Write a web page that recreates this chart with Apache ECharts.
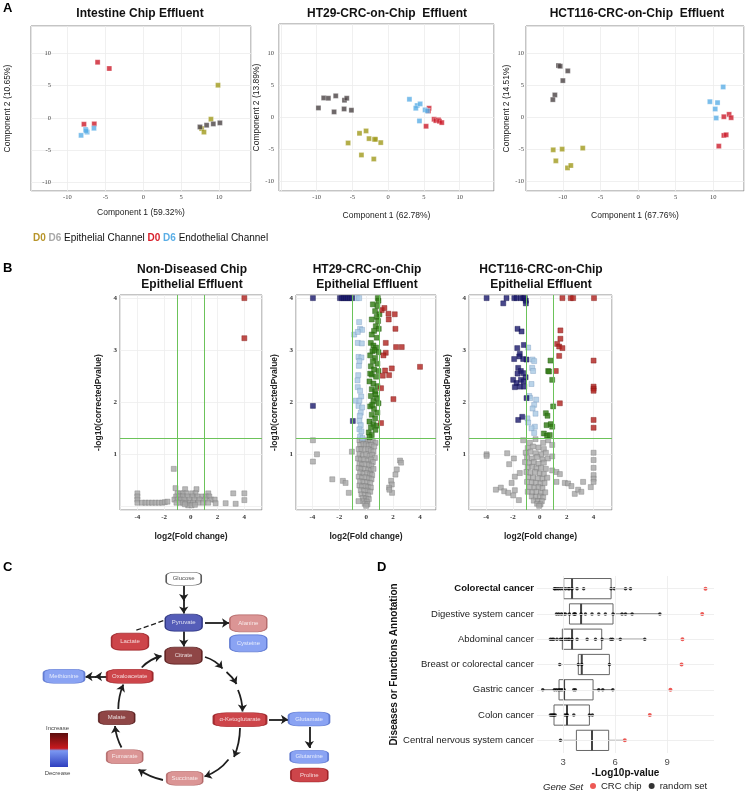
<!DOCTYPE html>
<html><head><meta charset="utf-8">
<script src="https://cdn.jsdelivr.net/npm/echarts@6/dist/echarts.min.js"></script>
<style>html,body{margin:0;padding:0;background:#fff}#c{width:747px;height:799px}</style>
</head><body><div id="c"></div>
<script>
// ---------------- Panel A data (PCA scores) ----------------
const a1_D0epi  = [[9.85,5.05],[8.92,-0.2],[7.69,-1.65],[8.0,-2.2]];
const a1_D6epi  = [[7.47,-1.4],[8.35,-1.13],[9.23,-0.93],[10.1,-0.77]];
const a1_D0endo = [[-6.02,8.6],[-4.48,7.63],[-7.82,-0.98],[-6.46,-0.93]];
const a1_D6endo = [[-8.2,-2.7],[-7.6,-1.8],[-7.4,-2.2],[-7.55,-2.0],[-6.5,-1.6]];

const a2_D0epi  = [[-5.59,-3.96],[-4.0,-2.45],[-3.08,-2.08],[-2.66,-3.28],[-1.91,-3.39],[-1.77,-3.39],[-1.03,-3.9],[-3.73,-5.83],[-2.0,-6.46]];
const a2_D6epi  = [[-9.74,1.51],[-9.0,3.07],[-8.35,3.02],[-7.32,3.39],[-7.55,0.89],[-6.1,2.71],[-5.78,3.02],[-6.15,1.35],[-5.13,1.15]];
const a2_D0endo = [[5.73,1.46],[5.64,1.04],[5.31,-1.35],[6.43,-0.26],[6.67,-0.47],[7.04,-0.36],[7.18,-0.57],[7.5,-0.78]];
const a2_D6endo = [[2.98,2.86],[4.06,1.88],[3.87,1.46],[4.48,2.14],[5.17,1.2],[5.5,1.04],[4.38,-0.52]];

const a3_D0epi  = [[-11.28,-5.07],[-10.09,-4.96],[-10.93,-6.79],[-7.35,-4.8],[-9.38,-7.89],[-8.94,-7.52]];
const a3_D6epi  = [[-10.58,8.09],[-10.35,7.99],[-9.34,7.26],[-10.0,5.74],[-11.06,3.5],[-11.33,2.77]];
const a3_D0endo = [[11.42,0.1],[12.12,0.47],[12.39,-0.05],[11.42,-2.82],[11.73,-2.72],[10.75,-4.49]];
const a3_D6endo = [[11.33,4.75],[9.56,2.45],[10.58,2.3],[10.27,1.31],[10.4,-0.1]];

const aTitles = ['Intestine Chip Effluent','HT29-CRC-on-Chip  Effluent','HCT116-CRC-on-Chip  Effluent'];
const aXNames = ['Component 1 (59.32%)','Component 1 (62.78%)','Component 1 (67.76%)'];
const aYNames = ['Component 2 (10.65%)','Component 2 (13.89%)','Component 2 (14.51%)'];

// ---------------- Panel B data (volcano) ----------------
const bTitles = ['Non-Diseased Chip\nEpithelial Effluent','HT29-CRC-on-Chip\nEpithelial Effluent','HCT116-CRC-on-Chip\nEpithelial Effluent'];
const b1Gray = [[-1.28,0.72],[-1.15,0.35],[0.42,0.33],[-0.43,0.33],
 [-4.0,0.25],[-1.0,0.25],[-0.8,0.25],[-0.58,0.25],[-0.33,0.25],[0.1,0.25],[0.35,0.25],[1.3,0.25],[3.17,0.25],[4.0,0.25],
 [-4.0,0.19],[-1.1,0.19],[-0.85,0.19],[-0.6,0.19],[-0.25,0.19],[0.13,0.19],[0.5,0.19],[0.88,0.19],[1.13,0.19],[1.38,0.19],
 [-4.0,0.13],[-1.23,0.13],[-0.98,0.13],[-0.73,0.13],[-0.48,0.13],[-0.1,0.13],[0.27,0.13],[0.65,0.13],[1.08,0.13],[1.53,0.13],[1.78,0.13],[4.0,0.12],
 [-4.0,0.07],[-3.65,0.07],[-3.4,0.07],[-3.15,0.07],[-2.9,0.07],[-2.65,0.07],[-2.4,0.07],[-2.15,0.07],[-1.95,0.08],[-1.75,0.09],[-1.08,0.07],[-0.83,0.07],[-0.58,0.07],[-0.33,0.07],[-0.08,0.07],[0.17,0.07],[0.55,0.07],[0.93,0.07],[1.3,0.07],[1.85,0.06],[2.6,0.06],[3.35,0.05],
 [-0.2,0.02],[0.05,0.02],[-0.45,0.04],[0.3,0.03]];
const b1Red = [[4.0,4.0],[4.0,3.23]];

const b2Gray = [[-0.5,1.27],[-0.3,1.26],[-0.1,1.27],[0.1,1.25],[0.3,1.27],[0.5,1.24],[0.7,1.22],
 [-0.45,1.18],[-0.2,1.2],[0.0,1.19],[0.2,1.17],[0.4,1.18],[0.6,1.15],
 [-0.55,1.1],[-0.35,1.1],[-0.1,1.08],[0.15,1.1],[0.35,1.07],[0.55,1.05],
 [-0.5,1.0],[-0.25,0.98],[0.0,1.0],[0.25,0.97],[0.45,0.99],[0.65,0.93],
 [-0.6,0.92],[-0.4,0.9],[-0.15,0.9],[0.1,0.88],[0.35,0.9],[0.5,0.85],
 [-0.5,0.82],[-0.3,0.8],[-0.05,0.81],[0.2,0.8],[0.4,0.78],
 [-0.55,0.74],[-0.35,0.72],[-0.1,0.72],[0.15,0.7],[0.35,0.69],[0.55,0.72],
 [-0.45,0.65],[-0.2,0.63],[0.05,0.64],[0.3,0.62],[0.45,0.6],
 [-0.55,0.57],[-0.3,0.55],[-0.05,0.56],[0.2,0.54],[0.4,0.52],
 [-0.45,0.48],[-0.2,0.47],[0.05,0.46],[0.3,0.45],
 [-0.5,0.4],[-0.3,0.38],[-0.05,0.39],[0.15,0.37],[0.35,0.36],
 [-0.4,0.31],[-0.15,0.3],[0.1,0.3],[0.3,0.28],
 [-0.35,0.23],[-0.1,0.22],[0.15,0.21],
 [-0.25,0.16],[0.0,0.15],[0.2,0.14],
 [-0.2,0.1],[0.05,0.09],[-0.1,0.05],[0.1,0.04],[0.0,0.01],
 [-3.96,1.27],[-3.66,1.0],[-3.96,0.86],[-1.06,1.05],[-2.52,0.52],[-1.73,0.49],[-1.53,0.45],[-1.29,0.26],
 [2.52,0.88],[2.6,0.84],[2.28,0.71],[2.18,0.61],[1.86,0.49],[1.91,0.42],[1.71,0.36],[1.93,0.26],[1.73,0.32],[-0.57,0.1]];
const b2LightBlue = [[-0.69,4.0],[-0.52,4.0],[-0.52,3.54],[-0.45,3.41],[-0.3,3.39],[-0.89,3.3],[-0.62,3.35],[-0.62,3.14],[-0.32,3.13],[-0.57,2.87],[-0.35,2.86],[-0.5,2.79],[-0.54,2.7],[-0.59,2.52],[-0.64,2.42],[-0.62,2.29],[-0.45,2.22],[-0.37,2.11],[-0.77,2.03],[-0.5,2.03],[-0.57,1.93],[-0.3,1.9],[-0.4,1.8],[-0.47,1.74],[-0.5,1.64],[-0.4,1.56],[-0.5,1.48],[-0.35,1.44],[-0.45,1.34],[-0.27,1.31]];
const b2Green = [[0.87,4.0],[0.92,3.95],[0.5,3.88],[0.84,3.85],[0.67,3.75],[0.99,3.69],[0.79,3.64],[0.42,3.59],[0.89,3.56],[0.72,3.46],[0.94,3.41],[0.59,3.37],[0.42,3.3],[0.79,3.24],[0.35,3.14],[0.54,3.09],[0.74,3.05],[0.47,2.98],[0.92,2.96],[0.3,2.9],[0.67,2.85],[0.5,2.79],[0.84,2.74],[0.35,2.69],[0.59,2.63],[0.92,2.6],[0.42,2.53],[0.74,2.49],[0.25,2.4],[0.54,2.36],[0.84,2.31],[0.42,2.25],[0.67,2.21],[0.35,2.12],[0.79,2.08],[0.54,2.02],[0.92,1.98],[0.3,1.92],[0.59,1.87],[0.84,1.8],[0.42,1.76],[0.67,1.69],[0.25,1.63],[0.54,1.58],[0.35,1.52],[0.69,1.47],[0.2,1.42],[0.42,1.37],[0.25,1.33],[0.62,3.0],[0.7,2.15],[0.45,1.95],[0.8,1.55],[0.3,2.55]];
const b2Navy = [[-3.96,4.0],[-1.95,4.0],[-1.8,4.0],[-1.65,4.0],[-1.5,4.0],[-1.35,4.0],[-1.2,4.0],[-1.05,4.0],[-3.96,1.93],[-0.99,1.64]];
const b2Red = [[1.16,3.77],[1.36,3.81],[1.66,3.7],[2.13,3.69],[1.68,3.59],[2.18,3.41],[1.46,3.14],[2.23,3.06],[2.65,3.06],[1.46,2.95],[1.29,2.9],[1.91,2.65],[1.41,2.61],[1.71,2.52],[1.24,2.51],[4.01,2.68],[1.11,2.27],[2.03,2.06],[1.11,1.6]];

const b3Gray = [[-1.24,1.27],[-0.74,1.22],[-0.32,1.29],[0.25,1.22],[0.62,1.27],[0.92,1.18],
 [-0.9,1.12],[-0.5,1.15],[-0.1,1.13],[0.3,1.1],
 [-1.05,1.03],[-0.7,1.05],[-0.3,1.02],[0.1,1.0],[0.45,1.03],
 [-0.95,0.94],[-0.6,0.92],[-0.2,0.95],[0.2,0.9],[0.6,0.92],[0.92,0.96],
 [-1.1,0.85],[-0.8,0.83],[-0.45,0.85],[-0.1,0.82],[0.3,0.84],
 [-0.9,0.75],[-0.55,0.76],[-0.25,0.73],[0.1,0.74],[0.45,0.72],[0.92,0.69],
 [-1.0,0.66],[-0.7,0.64],[-0.35,0.66],[0.0,0.63],[0.3,0.62],
 [-0.85,0.56],[-0.5,0.55],[-0.15,0.54],[0.2,0.53],[0.55,0.55],
 [-0.95,0.47],[-0.6,0.46],[-0.3,0.45],[0.05,0.44],[0.35,0.45],
 [-0.75,0.37],[-0.4,0.36],[-0.1,0.37],[0.2,0.35],
 [-0.9,0.28],[-0.55,0.27],[-0.25,0.28],[0.1,0.26],[0.4,0.27],
 [-0.6,0.19],[-0.3,0.18],[0.0,0.19],[0.25,0.17],
 [-0.45,0.11],[-0.15,0.1],[0.15,0.1],[-0.2,0.05],[0.05,0.04],[-0.05,0.01],
 [-3.96,1.0],[-3.96,0.97],[-2.43,1.02],[-1.93,0.92],[-2.28,0.81],[-1.49,0.64],[-1.86,0.57],[-2.1,0.45],[-3.27,0.32],[-2.9,0.36],[-2.65,0.29],[-2.35,0.26],[-1.86,0.31],[-1.98,0.21],[-1.56,0.12],
 [1.24,0.66],[1.49,0.62],[1.24,0.47],[1.86,0.45],[2.1,0.44],[2.35,0.39],[2.6,0.24],[2.85,0.32],[3.22,0.47],[3.09,0.28],[3.79,0.37],
 [4.0,1.03],[4.0,0.89],[4.0,0.74],[4.0,0.6],[4.0,0.53],[4.0,0.47]];
const b3LightBlue = [[-0.87,3.05],[-0.54,2.82],[-0.42,2.79],[-0.57,2.66],[-0.5,2.6],[-0.62,2.35],[-0.79,2.12],[-0.72,2.08],[-0.27,2.05],[-0.42,1.95],[-0.54,1.88],[-0.32,1.78],[-0.92,1.69],[-0.87,1.61],[-0.37,1.53],[-0.62,1.5],[-0.42,1.41]];
const b3Green = [[0.79,2.8],[0.62,2.6],[0.69,2.59],[0.92,2.43],[0.99,1.92],[0.45,1.79],[0.57,1.74],[0.5,1.56],[0.82,1.58],[0.92,1.53],[0.3,1.4],[0.54,1.36],[0.74,1.37]];
const b3Navy = [[-3.96,4.0],[-2.72,3.9],[-2.48,4.0],[-1.9,4.0],[-1.73,4.0],[-1.41,4.0],[-1.24,4.0],[-1.11,4.0],[-1.04,3.95],[-1.04,3.9],[-1.66,3.41],[-1.36,3.36],[-1.19,3.1],[-1.68,3.04],[-1.49,2.93],[-1.53,2.88],[-1.91,2.83],[-1.24,2.83],[-0.99,2.82],[-1.61,2.66],[-1.41,2.6],[-1.24,2.56],[-1.66,2.55],[-1.06,2.48],[-1.98,2.43],[-1.41,2.43],[-1.21,2.4],[-1.73,2.37],[-1.49,2.3],[-1.86,2.29],[-1.16,2.3],[-0.99,2.08],[-1.61,1.66],[-1.31,1.72]];
const b3Red = [[1.68,4.0],[2.3,4.0],[2.48,4.0],[4.03,4.0],[1.53,3.38],[1.53,3.22],[1.29,3.12],[1.44,3.07],[1.68,3.04],[1.44,2.89],[1.19,2.6],[4.0,2.8],[4.0,2.3],[4.0,2.26],[4.0,2.22],[1.49,1.98],[4.0,1.66],[4.0,1.51]];

// ---------------- Panel C data (pathway) ----------------
const cNodes  = ['Glucose','Pyruvate','Alanine','Cysteine','Lactate','Citrate','Methionine','Oxaloacetate','Malate','α-Ketoglutarate','Glutamate','Glutamine','Proline','Fumarate','Succinate'];
const cChange = [0,-2,1,-1,2,3,-1,2,3,2,-1,-1,2,1,1];

// ---------------- Panel D data (box plot) ----------------
const dCats = ['Colorectal cancer','Digestive system cancer','Abdominal cancer','Breast or colorectal cancer','Gastric cancer','Colon cancer','Central nervous system cancer'];
const dLow  = [2.5, 2.62, 2.27, 2.81, 1.83, 2.27, 2.85];
const dQ1   = [3.04, 3.37, 2.96, 3.88, 2.77, 2.48, 3.77];
const dMed  = [3.52, 4.04, 3.52, 4.08, 3.06, 3.23, 4.67];
const dQ3   = [5.77, 5.88, 5.23, 5.67, 4.73, 4.52, 5.63];
const dHigh = [6.88, 8.58, 7.71, 5.67, 5.87, 4.69, 6.56];
const dRandom = [
 [2.5,2.55,2.65,2.75,2.87,3.0,3.15,3.3,3.37,3.52,3.81,4.19,5.77,5.96,6.6,6.89],
 [2.62,2.75,2.9,3.04,3.13,3.37,3.62,3.67,3.71,4.04,4.29,4.67,5.06,5.44,5.88,6.4,6.6,6.98,8.58],
 [2.27,2.37,2.46,2.65,2.85,2.96,3.04,3.17,3.29,3.37,3.52,3.81,4.39,4.87,5.25,5.75,5.85,6.3,7.71],
 [2.81,3.88,4.08,5.67],
 [1.83,2.5,2.62,2.75,2.85,2.94,3.06,3.62,3.71,5.06,5.29,5.87],
 [2.27,2.35,2.42,2.48,2.55,3.1,3.2,3.25,3.62,4.52,4.69],
 [2.85]
];
const dCRC = [11.21, 11.02, 9.88, 9.83, 9.19, 8.0, 6.56];
const dXTicks = [3, 6, 9];

// ---------------- styling / layout ----------------
const SANS = "'Liberation Sans', Arial, sans-serif";
const SERIF = "'Liberation Serif', 'Times New Roman', serif";
const C_OLIVE = '#a09a1c', C_DARK = '#4a4244', C_RED = '#cc1b2b', C_BLUE = '#5aaee6';

const aGrids = [{left:31,top:26,width:220,height:165},{left:279,top:24,width:215,height:167},{left:526,top:26,width:218,height:165}];
const aRanges = [{x:[-14.8,14.2],y:[-11.3,14.2]},{x:[-15.25,14.8],y:[-11.45,14.6]},{x:[-14.9,14.1],y:[-11.5,14.27]}];
const aNameGapX = [17,20,20], aNameGapY = [19,14,14];
const aTitleX = [140,387,637];
const bGrids = [{left:120,top:295,width:142,height:215},{left:296,top:295,width:140,height:215},{left:469,top:295,width:143,height:215}];
const bRangesX = [[-5.3,5.32],[-5.22,5.2],[-5.27,5.37]];
const bTitleX = [192,367,541];

const grids = [], xAxes = [], yAxes = [], series = [];
aGrids.forEach(g => grids.push(Object.assign({show:true, borderColor:'#8a8a8a', borderWidth:1, backgroundColor:'#fff'}, g)));
bGrids.forEach(g => grids.push(Object.assign({show:true, borderColor:'#8a8a8a', borderWidth:1, backgroundColor:'#fff'}, g)));
grids.push({left:0, top:550, width:380, height:249, show:false});          // C
grids.push({left:537, top:576, width:177, height:177, show:false});        // D

const aTickFmt = v => (Math.abs(v) > 10.01 ? '' : String(v));

// Panel A axes + series
const aSets = [[a1_D0epi,a1_D6epi,a1_D0endo,a1_D6endo],[a2_D0epi,a2_D6epi,a2_D0endo,a2_D6endo],[a3_D0epi,a3_D6epi,a3_D0endo,a3_D6endo]];
const aColors = [C_OLIVE, C_DARK, C_RED, C_BLUE];
for (let k = 0; k < 3; k++) {
  xAxes.push({gridIndex:k, type:'value', min:aRanges[k].x[0], max:aRanges[k].x[1], splitNumber:6,
    name:aXNames[k], nameLocation:'middle', nameGap:aNameGapX[k], nameTextStyle:{fontSize:8.5,color:'#222',fontFamily:SANS},
    axisLine:{show:false}, axisTick:{show:false},
    axisLabel:{fontSize:6.5,fontFamily:SERIF,color:'#444',margin:3,showMinLabel:false,showMaxLabel:false,formatter:aTickFmt},
    splitLine:{lineStyle:{color:'#ececec',width:0.8}}});
  yAxes.push({gridIndex:k, type:'value', min:aRanges[k].y[0], max:aRanges[k].y[1], splitNumber:5,
    name:aYNames[k], nameLocation:'middle', nameGap:aNameGapY[k], nameTextStyle:{fontSize:8.5,color:'#222',fontFamily:SANS},
    axisLine:{show:false}, axisTick:{show:false},
    axisLabel: k === 0 ? {inside:true, align:'right', margin:20, fontSize:6.5,fontFamily:SERIF,color:'#444',showMinLabel:false,showMaxLabel:false,formatter:aTickFmt}
                       : {fontSize:6.5,fontFamily:SERIF,color:'#444',margin:k===1?5:2,showMinLabel:false,showMaxLabel:false,formatter:aTickFmt},
    splitLine:{lineStyle:{color:'#ececec',width:0.8}}});
  aSets[k].forEach((d, j) => series.push({type:'scatter', xAxisIndex:k, yAxisIndex:k, data:d, symbol:'rect', symbolSize:5,
    itemStyle:{color:aColors[j], borderColor:'rgba(255,255,255,0.7)', borderWidth:0.5}, silent:true, z:3}));
}

// Panel B axes + series
const bSets = [
  {gray:b1Gray, lb:[], green:[], navy:[], red:b1Red},
  {gray:b2Gray, lb:b2LightBlue, green:b2Green, navy:b2Navy, red:b2Red},
  {gray:b3Gray, lb:b3LightBlue, green:b3Green, navy:b3Navy, red:b3Red}];
for (let k = 0; k < 3; k++) {
  const gi = 3 + k;
  xAxes.push({gridIndex:gi, type:'value', min:bRangesX[k][0], max:bRangesX[k][1], splitNumber:5,
    name:'log2(Fold change)', nameLocation:'middle', nameGap:22, nameTextStyle:{fontSize:8.5,fontWeight:'bold',color:'#222',fontFamily:SANS},
    axisLine:{show:false}, axisTick:{show:false},
    axisLabel:{fontSize:7,fontWeight:'bold',fontFamily:SERIF,color:'#333',margin:4,showMinLabel:false,showMaxLabel:false},
    splitLine:{lineStyle:{color:'#eeeeee',width:0.8}}});
  yAxes.push({gridIndex:gi, type:'value', min:-0.07, max:4.06, splitNumber:4,
    name:'-log10(correctedPvalue)', nameLocation:'middle', nameGap:17, nameTextStyle:{fontSize:8.5,fontWeight:'bold',color:'#222',fontFamily:SANS},
    axisLine:{show:false}, axisTick:{show:false},
    axisLabel:{fontSize:7,fontWeight:'bold',fontFamily:SERIF,color:'#333',margin:3,showMinLabel:false,showMaxLabel:false,
      formatter: v => (v === 0 ? '' : String(v))},
    splitLine:{lineStyle:{color:'#eeeeee',width:0.8}}});
  const s = bSets[k];
  series.push({type:'scatter', xAxisIndex:gi, yAxisIndex:gi, data:s.gray, symbol:'rect', symbolSize:5, z:2, silent:true,
    itemStyle:{color:'#a8a8a8', borderColor:'#777', borderWidth:0.5},
    markLine:{silent:true, symbol:'none', label:{show:false}, animation:false,
      lineStyle:{color:'#6cc35a', width:1, type:'solid'}, data:[{xAxis:-1},{xAxis:1},{yAxis:1.3}]}});
  series.push({type:'scatter', xAxisIndex:gi, yAxisIndex:gi, data:s.lb, symbol:'rect', symbolSize:5, z:3, silent:true,
    itemStyle:{color:'#a9c9e3', borderColor:'#7a9cc0', borderWidth:0.5}});
  series.push({type:'scatter', xAxisIndex:gi, yAxisIndex:gi, data:s.green, symbol:'rect', symbolSize:5, z:3, silent:true,
    itemStyle:{color:'#2f7a12', borderColor:'#1f5a0a', borderWidth:0.5}});
  series.push({type:'scatter', xAxisIndex:gi, yAxisIndex:gi, data:s.navy, symbol:'rect', symbolSize:5, z:3, silent:true,
    itemStyle:{color:'#1c1a6e', borderColor:'#10104a', borderWidth:0.5}});
  series.push({type:'scatter', xAxisIndex:gi, yAxisIndex:gi, data:s.red, symbol:'rect', symbolSize:5, z:3, silent:true,
    itemStyle:{color:'#b0221e', borderColor:'#801512', borderWidth:0.5}});
}

// Panel C: hidden canvas-coordinate axes, nodes + arrows
xAxes.push({gridIndex:6, type:'value', min:0, max:380, show:false});
yAxes.push({gridIndex:6, type:'value', min:550, max:799, inverse:true, show:false});
const cBox = {Glucose:[183.7,578.7,35,13], Pyruvate:[183.7,622.7,37,17], Alanine:[248.3,623.3,37,17], Cysteine:[248.3,643.3,37,17],
  Lactate:[130,641.7,37,17], Citrate:[183.5,655.7,37,17], Methionine:[64,676.2,41,14], Oxaloacetate:[129.7,676.3,46,14],
  Malate:[116.7,717.7,36,14], 'α-Ketoglutarate':[240,719.7,53,14], Glutamate:[309,719,41,14], Glutamine:[309.2,756.7,38,13],
  Proline:[309.3,775,37,14], Fumarate:[124.7,756.7,36,14], Succinate:[184.7,778.3,36,14]};
const levelFill = {'-2':'#2a35a6','-1':'#6d8cf0','0':'#ffffff','1':'#d27a7a','2':'#c1161d','3':'#731818'};
const levelBorder = {'-2':'#1a2270','-1':'#4a66c8','0':'#333333','1':'#a85858','2':'#8d1015','3':'#4a0e0e'};
const cArrowGeom = [
  [183.7,586,183.7,601,0],[183.7,600,183.7,613.5,0],
  [183.7,631.5,183.7,646.5,0],
  [205,623,229,623,0],
  [141.7,667.5,161.5,656,0.15],
  [205,657,222.5,668.5,0.15],[226.5,672,236.5,684,0.1],[238,690,242.5,711.5,0.1],
  [240,728,234,757,0.1],[228.5,759.5,204.5,776.5,0.15],
  [163,780,138.5,769.5,0.1],
  [121.5,747.5,115,726,0.1],
  [118.3,709,123.3,684.5,0.1],
  [106.5,676.5,95,676.5,0],[96,676.5,85.5,676.5,0],
  [269,719.5,288,719.5,0],
  [309.3,727,309.3,748,0]];
series.push({type:'lines', coordinateSystem:'cartesian2d', xAxisIndex:6, yAxisIndex:6, silent:true, z:2,
  symbol:['none','arrow'], symbolSize:7, lineStyle:{color:'#1e1e1e', width:1.8, opacity:1},
  data: cArrowGeom.map(a => ({coords:[[a[0],a[1]],[a[2],a[3]]], lineStyle:{curveness:a[4]}}))});
series.push({type:'lines', coordinateSystem:'cartesian2d', xAxisIndex:6, yAxisIndex:6, silent:true, z:2,
  symbol:'none', lineStyle:{color:'#1e1e1e', width:1.3, type:'dashed', opacity:1},
  data:[{coords:[[163.3,620.7],[135,630.7]]}]});
series.push({type:'scatter', xAxisIndex:6, yAxisIndex:6, silent:true, z:3, symbol:'roundRect',
  label:{show:true, position:'inside', formatter:'{b}', fontSize:6, fontFamily:SANS},
  data: cNodes.map((n, i) => {
    const b = cBox[n], lv = String(cChange[i]);
    return {name:n, value:[b[0], b[1]], symbolSize:[b[2], b[3]],
      itemStyle:{color:levelFill[lv], borderColor:levelBorder[lv], borderWidth:1},
      label:{color: lv === '0' ? '#222' : '#fff'}};
  })});

// Panel D axes + series
xAxes.push({gridIndex:7, type:'value', min:1.5, max:11.7, splitNumber:3,
  name:'-Log10p-value', nameLocation:'middle', nameGap:14, nameTextStyle:{fontSize:10,fontWeight:'bold',color:'#111',fontFamily:SANS},
  axisLine:{show:false}, axisTick:{show:false}, splitLine:{show:false},
  axisLabel:{fontSize:9.5,color:'#4d4d4d',margin:4,showMinLabel:false,showMaxLabel:false,fontFamily:SANS}});
yAxes.push({gridIndex:7, type:'category', data:dCats, inverse:true,
  name:'Diseases or Functions Annotation', nameLocation:'middle', nameGap:132, nameTextStyle:{fontSize:10,fontWeight:'bold',color:'#111',fontFamily:SANS},
  axisLine:{show:false}, axisTick:{show:false}, splitLine:{show:false},
  axisLabel:{fontSize:9.5,color:'#222',margin:3,fontFamily:SANS,
    formatter:(v, i) => i === 0 ? '{b|' + v + '}' : v, rich:{b:{fontWeight:'bold',fontSize:9.5,color:'#111',fontFamily:SANS}}}});
// grid lines for D (under boxes)
series.push({type:'scatter', xAxisIndex:7, yAxisIndex:7, data:[], z:0, silent:true,
  markLine:{silent:true, symbol:'none', label:{show:false}, animation:false, lineStyle:{color:'#ebebeb', width:0.8, type:'solid'},
    data: dXTicks.map(t => ({xAxis:t})).concat(dCats.map(c => ({yAxis:c})))}});
series.push({type:'custom', xAxisIndex:7, yAxisIndex:7, z:2, silent:true,
  data: dCats.map((c, i) => [i, dLow[i], dQ1[i], dMed[i], dQ3[i], dHigh[i]]),
  encode:{x:[1,2,3,4,5], y:0},
  renderItem: (params, api) => {
    const i = api.value(0);
    const pLo = api.coord([api.value(1), i]), pQ1 = api.coord([api.value(2), i]), pMd = api.coord([api.value(3), i]);
    const pQ3 = api.coord([api.value(4), i]), pHi = api.coord([api.value(5), i]);
    const h = api.size([0, 1])[1] * 0.8, y = pMd[1];
    const ls = {stroke:'#555', lineWidth:1, fill:null};
    return {type:'group', children:[
      {type:'line', shape:{x1:pLo[0], y1:y, x2:pQ1[0], y2:y}, style:ls},
      {type:'line', shape:{x1:pQ3[0], y1:y, x2:pHi[0], y2:y}, style:ls},
      {type:'rect', shape:{x:pQ1[0], y:y - h/2, width:pQ3[0] - pQ1[0], height:h}, style:{fill:'#fff', stroke:'#666', lineWidth:1}},
      {type:'line', shape:{x1:pMd[0], y1:y - h/2, x2:pMd[0], y2:y + h/2}, style:{stroke:'#444', lineWidth:2}}
    ]};
  }});
const dRandPts = [];
dRandom.forEach((arr, i) => arr.forEach(v => dRandPts.push([v, i])));
series.push({name:'random set', type:'scatter', xAxisIndex:7, yAxisIndex:7, z:3, silent:true, data:dRandPts,
  symbol:'circle', symbolSize:3.5, itemStyle:{color:'#000'}});
series.push({name:'CRC chip', type:'scatter', xAxisIndex:7, yAxisIndex:7, z:4, silent:true, data:dCRC.map((v, i) => [v, i]),
  symbol:'circle', symbolSize:4, itemStyle:{color:'#e8302a'}});

// titles / texts
const T = (text, left, top, style, align) => Object.assign({text, left, top, padding:0,
  textStyle:Object.assign({fontFamily:SANS, color:'#111'}, style)}, align ? {textAlign:align} : {});
const titles = [
  T('A', 3, 2, {fontSize:13, fontWeight:'bold', color:'#000'}),
  T('B', 3, 262, {fontSize:13, fontWeight:'bold', color:'#000'}),
  T('C', 3, 561, {fontSize:13, fontWeight:'bold', color:'#000'}),
  T('D', 377, 561, {fontSize:13, fontWeight:'bold', color:'#000'}),
  T('Gene Set', 543, 782, {fontSize:9.5, fontStyle:'italic', fontWeight:'normal', color:'#222'}),
  {text:'{o|D0} {g|D6} {k|Epithelial Channel} {r|D0} {b|D6} {k|Endothelial Channel}', left:33, top:233, padding:0,
   textStyle:{fontFamily:SANS, fontSize:10, fontWeight:'normal', rich:{
     o:{color:'#b8952a', fontWeight:'bold', fontSize:10, fontFamily:SANS},
     g:{color:'#a8a8a8', fontWeight:'bold', fontSize:10, fontFamily:SANS},
     k:{color:'#111', fontWeight:'normal', fontSize:10, fontFamily:SANS},
     r:{color:'#d81e2a', fontWeight:'bold', fontSize:10, fontFamily:SANS},
     b:{color:'#5aaee6', fontWeight:'bold', fontSize:10, fontFamily:SANS}}}}
];
aTitles.forEach((t, k) => titles.push(T(t, aTitleX[k], 8, {fontSize:12, fontWeight:'bold'}, 'center')));
bTitles.forEach((t, k) => titles.push(T(t, bTitleX[k], 262, {fontSize:12, fontWeight:'bold', lineHeight:15}, 'center')));

const option = {
  animation:false,
  backgroundColor:'#fff',
  textStyle:{fontFamily:SANS},
  title: titles,
  grid: grids, xAxis: xAxes, yAxis: yAxes, series,
  legend:{left:590, top:781, itemWidth:6, itemHeight:6, itemGap:7, padding:0, selectedMode:false,
    textStyle:{fontSize:9.5, color:'#222', fontFamily:SANS},
    data:[{name:'CRC chip', icon:'circle'},{name:'random set', icon:'circle'}]},
  graphic:[
    {type:'rect', shape:{x:50, y:733, width:18, height:34}, silent:true,
     style:{fill:{type:'linear', x:0, y:0, x2:0, y2:1, colorStops:[
       {offset:0, color:'#5c0d0d'},{offset:0.45, color:'#c8191e'},{offset:0.52, color:'#7b98f2'},{offset:1, color:'#2e3fbf'}]}}},
    {type:'text', x:57.5, y:728, silent:true, style:{text:'Increase', fontSize:6, fill:'#444', align:'center', verticalAlign:'middle', fontFamily:SANS}},
    {type:'text', x:57.5, y:773, silent:true, style:{text:'Decrease', fontSize:6, fill:'#444', align:'center', verticalAlign:'middle', fontFamily:SANS}}
  ]
};
const chart = echarts.init(document.getElementById('c'), null, {renderer:'canvas', width:747, height:799});
chart.setOption(option);
</script></body></html>
